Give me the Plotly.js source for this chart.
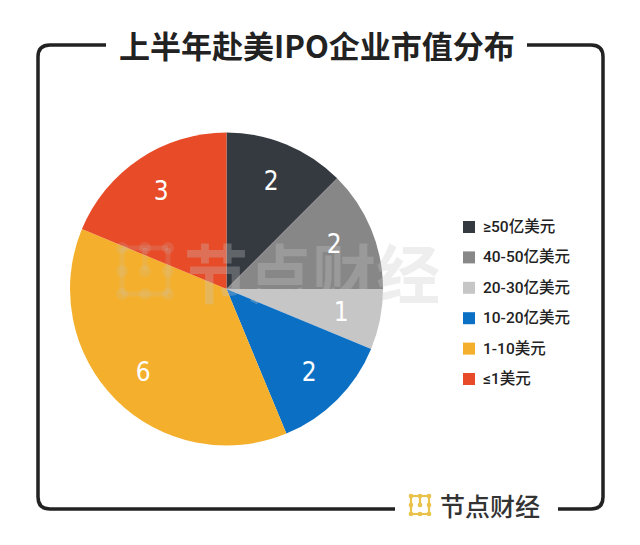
<!DOCTYPE html>
<html>
<head>
<meta charset="utf-8">
<script src="https://cdn.plot.ly/plotly-3.0.1.min.js"></script>
<style>html,body{margin:0;padding:0;background:#fff;}#chart{width:640px;height:545px;}</style>
</head>
<body>
<div id="chart"></div>
<script>
// ---- data ----
const categories = ["≥50亿美元", "40-50亿美元", "20-30亿美元", "10-20亿美元", "1-10美元", "≤1美元"];
const counts = [2, 2, 1, 2, 6, 3];
const sliceColors = ["#353a41", "#878787", "#c6c6c6", "#0b6fc4", "#f4b02c", "#e84b28"];
const chartTitle = "上半年赴美IPO企业市值分布";
const brandText = "节点财经";

// ---- helpers (pixel -> paper) ----
const W = 640, H = 545;
const px = x => x / W;
const py = y => 1 - y / H;
const P = (x, y) => px(x) + "," + py(y);

const shapes = [];
const annotations = [];

// frame with rounded corners, broken by title and brand
const frameStyle = {type: "path", xref: "paper", yref: "paper", line: {color: "#222", width: 3.5}};
shapes.push(Object.assign({}, frameStyle, {
  path: "M" + P(106, 45) + " L" + P(50, 45) + " Q" + P(38, 45) + " " + P(38, 57) +
        " L" + P(38, 497) + " Q" + P(38, 509) + " " + P(50, 509) + " L" + P(395, 509)
}));
shapes.push(Object.assign({}, frameStyle, {
  path: "M" + P(527, 45) + " L" + P(591, 45) + " Q" + P(603, 45) + " " + P(603, 57) +
        " L" + P(603, 497) + " Q" + P(603, 509) + " " + P(591, 509) + " L" + P(558, 509)
}));

// brand icon (dot grid) drawn at (x0,y0) with size s
function brandIcon(x0, y0, s, color, lw) {
  const pts = [[0,0],[1,0],[2,0],[0,1],[2,1],[0,2],[1,2],[2,2],[1,1]];
  const segs = [[[0,0],[2,0]], [[0,0],[0,2]], [[2,0],[2,2]], [[0,2],[2,2]], [[1,0],[1,1]]];
  segs.forEach(sg => {
    shapes.push({type: "line", xref: "paper", yref: "paper",
      x0: px(x0 + s * sg[0][0] / 2), y0: py(y0 + s * sg[0][1] / 2),
      x1: px(x0 + s * sg[1][0] / 2), y1: py(y0 + s * sg[1][1] / 2),
      line: {color: color, width: lw}});
  });
  pts.forEach(p => {
    const cx = x0 + s * p[0] / 2, cy = y0 + s * p[1] / 2, r = s * 0.13;
    shapes.push({type: "circle", xref: "paper", yref: "paper",
      x0: px(cx - r), x1: px(cx + r), y0: py(cy + r), y1: py(cy - r),
      fillcolor: color, line: {width: 0}});
  });
}
brandIcon(411, 496, 18, "#e9c24a", 2.2);

// title
annotations.push({text: "<b>" + chartTitle + "</b>", xref: "paper", yref: "paper",
  x: px(317), y: py(45), xanchor: "center", yanchor: "middle", showarrow: false,
  font: {family: "Noto Sans CJK SC", size: 31, color: "#222", weight: 900}});

// brand text bottom
annotations.push({text: brandText, xref: "paper", yref: "paper",
  x: px(438), y: py(505), xanchor: "left", yanchor: "middle", showarrow: false,
  font: {family: "Noto Sans CJK SC", size: 25, color: "#333", weight: 500}});

// watermark
brandIcon(122, 248, 46, "rgba(200,200,200,0.16)", 5);
annotations.push({text: brandText, xref: "paper", yref: "paper",
  x: px(312), y: py(270), xanchor: "center", yanchor: "middle", showarrow: false,
  font: {family: "Noto Sans CJK SC", size: 64, color: "rgba(200,200,200,0.3)", weight: 700}});

// custom legend
const legX = 463, legY0 = 227, legStep = 30.4;
categories.forEach((c, i) => {
  const y = legY0 + i * legStep;
  shapes.push({type: "rect", xref: "paper", yref: "paper",
    x0: px(legX), x1: px(legX + 12), y0: py(y + 6), y1: py(y - 6),
    fillcolor: sliceColors[i], line: {width: 0}});
  annotations.push({text: c, xref: "paper", yref: "paper",
    x: px(legX + 18), y: py(y), xanchor: "left", yanchor: "middle", showarrow: false,
    font: {family: "Roboto, Noto Sans CJK SC", size: 15.5, color: "#222", weight: 500}});
});

// pie geometry
const cx = 226.5, cyTop = 289, R = 156.5;

// slice value labels, placed at each slice's mid angle
const total = counts.reduce((a, b) => a + b, 0);
let cum = 0;
counts.forEach((v, i) => {
  const mid = (cum + v / 2) / total * 2 * Math.PI;
  cum += v;
  const rr = R * 0.75;
  annotations.push({text: String(v), xref: "paper", yref: "paper",
    x: px(cx + rr * Math.sin(mid)), y: py(cyTop - rr * Math.cos(mid)),
    xanchor: "center", yanchor: "middle", showarrow: false,
    font: {family: "DejaVu Sans", size: 26, color: "#fff"}});
});

const trace = {
  type: "pie",
  values: counts,
  labels: categories,
  marker: {colors: sliceColors, line: {width: 0}},
  sort: false,
  direction: "clockwise",
  rotation: 0,
  textinfo: "none",
  hoverinfo: "label+value",
  showlegend: false,
  domain: {x: [px(cx - R), px(cx + R)], y: [py(cyTop + R), py(cyTop - R)]}
};

Plotly.newPlot("chart", [trace], {
  width: W, height: H,
  margin: {l: 0, r: 0, t: 0, b: 0},
  paper_bgcolor: "#fff",
  showlegend: false,
  shapes: shapes,
  annotations: annotations
}, {displayModeBar: false, staticPlot: true}).then(gd => {
  gd.querySelectorAll(".annotation-text").forEach(t => {
    if ((t.style.fontFamily || "").indexOf("DejaVu") >= 0) {
      t.style.fontStretch = "condensed";
    }
  });
});
</script>
</body>
</html>
